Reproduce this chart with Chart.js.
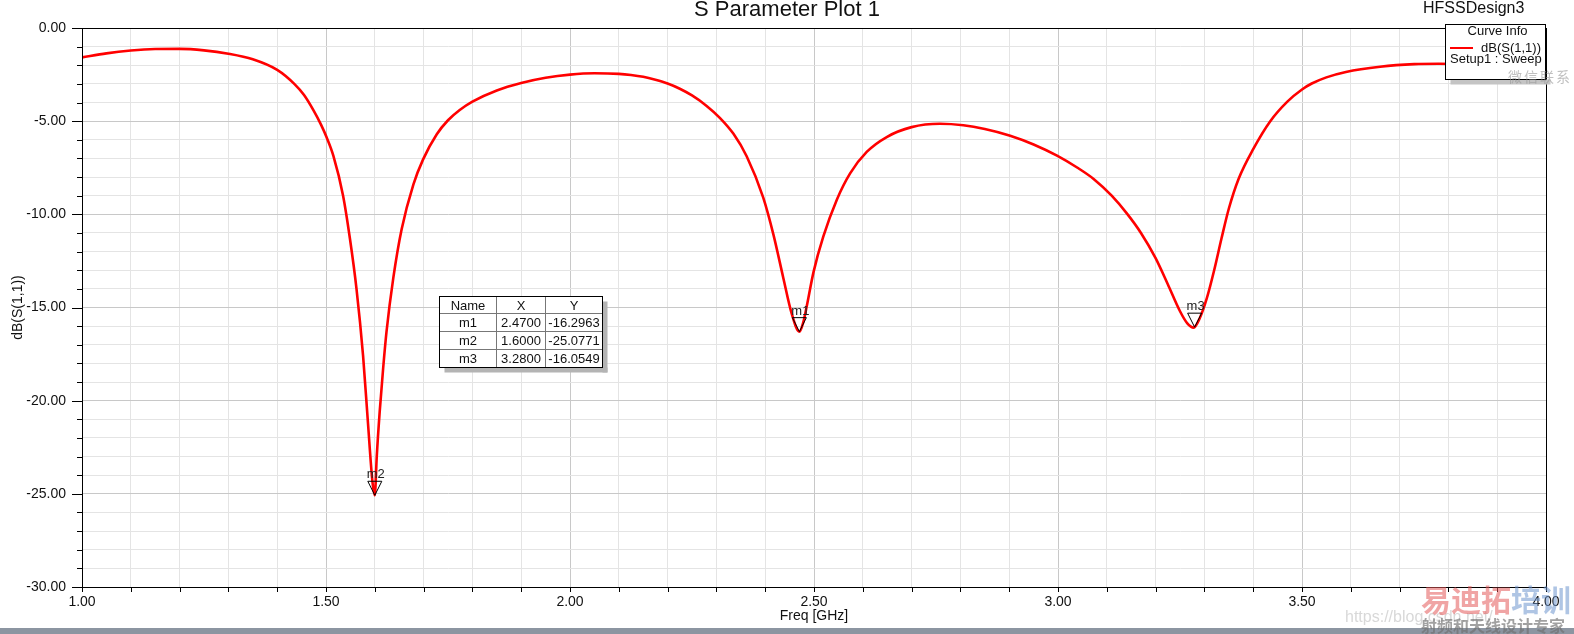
<!DOCTYPE html>
<html>
<head>
<meta charset="utf-8">
<script src="https://cdn.jsdelivr.net/npm/chart.js@4.4.0/dist/chart.umd.min.js"></script>
<style>
  html, body { margin: 0; padding: 0; background: #fff; }
  #wrap { width: 1574px; height: 634px; }
</style>
</head>
<body>
<div id="wrap"><canvas id="chart" width="1574" height="634"></canvas></div>
<script>
// values
const freq = [
    1.00, 1.05, 1.10, 1.15, 1.20, 1.25, 1.30, 1.35, 1.40, 1.435,
    1.455, 1.475, 1.49, 1.501, 1.515, 1.535, 1.549, 1.5625, 1.576, 1.586,
    1.595, 1.60, 1.604, 1.61, 1.617, 1.624, 1.638, 1.655, 1.679, 1.699,
    1.727, 1.75, 1.774, 1.80, 1.85, 1.90, 1.95, 2.00, 2.05, 2.10,
    2.125, 2.15, 2.175, 2.20, 2.225, 2.25, 2.28, 2.307, 2.335, 2.362,
    2.396, 2.417, 2.437, 2.454, 2.47, 2.478, 2.485, 2.499, 2.519, 2.547,
    2.574, 2.608, 2.649, 2.70, 2.758, 2.806, 2.85, 2.902, 2.95, 2.998,
    3.04, 3.073, 3.11, 3.141, 3.17, 3.20, 3.225, 3.25, 3.265, 3.278,
    3.29, 3.305, 3.32, 3.335, 3.35, 3.37, 3.40, 3.435, 3.47, 3.50,
    3.52, 3.55, 3.59, 3.66, 3.73, 3.78, 3.85, 3.90, 3.95, 4.00
]
const s11 = [
    -1.58, -1.36, -1.21, -1.13, -1.12, -1.20, -1.38, -1.68, -2.25, -3.00,
    -3.60, -4.45, -5.20, -5.85, -6.85, -9.00, -11.30, -14.00, -17.60, -21.20,
    -24.30, -25.08, -23.00, -20.60, -18.30, -16.30, -13.40, -10.80, -8.40, -7.05,
    -5.70, -4.95, -4.40, -3.95, -3.35, -2.95, -2.67, -2.50, -2.43, -2.46,
    -2.52, -2.62, -2.78, -2.98, -3.26, -3.62, -4.18, -4.82, -5.68, -6.88,
    -9.10, -11.10, -13.40, -15.30, -16.30, -15.80, -14.95, -13.10, -11.20, -9.20,
    -7.80, -6.65, -5.85, -5.32, -5.14, -5.22, -5.42, -5.78, -6.25, -6.85,
    -7.50, -8.10, -9.00, -9.95, -11.00, -12.35, -13.75, -15.20, -15.85, -16.08,
    -15.60, -14.50, -13.00, -11.30, -9.70, -8.10, -6.50, -5.00, -3.95, -3.30,
    -2.98, -2.65, -2.36, -2.08, -1.94, -1.92, -1.97, -2.08, -2.35, -2.80
]

const markerNames = ['m1', 'm2', 'm3']
const markerX = [2.47, 1.60, 3.28]
const markerY = [-16.2963, -25.0771, -16.0549]

const chartTitle = 'S Parameter Plot 1'
const designName = 'HFSSDesign3'
const curveLabel = 'dB(S(1,1))'
const sweepLabel = 'Setup1 : Sweep'

const FONT = "'Liberation Sans', Arial, sans-serif"

const isMajorX = v => Math.abs(v * 2 - Math.round(v * 2)) < 1e-6
const isMajorY = v => Math.abs(v / 5 - Math.round(v / 5)) < 1e-6

const line = (c, x1, y1, x2, y2) => {
    c.beginPath()
    c.moveTo(x1, y1)
    c.lineTo(x2, y2)
    c.stroke()
}

// draws everything HFSS puts around the plot: frame, ticks, markers, table, curve info
const decor = {
    id: 'decor',
    beforeDraw(chart) {
        const c = chart.ctx
        c.save()
        c.fillStyle = '#fff'
        c.fillRect(0, 0, chart.width, chart.height)
        c.restore()
    },
    afterDraw(chart) {
        const c = chart.ctx
        const a = chart.chartArea
        const xs = chart.scales.x
        const ys = chart.scales.y
        c.save()

        // frame
        c.strokeStyle = '#000'
        c.lineWidth = 1
        c.strokeRect(Math.round(a.left) + 0.5, Math.round(a.top) + 0.5,
            Math.round(a.right - a.left), Math.round(a.bottom - a.top))

        // tick marks
        ys.ticks.forEach(t => {
            const y = Math.round(ys.getPixelForValue(t.value)) + 0.5
            const len = isMajorY(t.value) ? 10 : 5
            line(c, a.left - len, y, a.left, y)
        })
        xs.ticks.forEach(t => {
            const x = Math.round(xs.getPixelForValue(t.value)) + 0.5
            line(c, x, a.bottom, x, a.bottom + 5)
        })

        // markers
        c.font = '13px ' + FONT
        c.textAlign = 'center'
        c.textBaseline = 'alphabetic'
        c.fillStyle = '#222'
        markerNames.forEach((name, i) => {
            const px = xs.getPixelForValue(markerX[i])
            const py = ys.getPixelForValue(markerY[i])
            c.beginPath()
            c.moveTo(px, py)
            c.lineTo(px - 7, py - 14)
            c.lineTo(px + 7, py - 14)
            c.closePath()
            c.strokeStyle = '#000'
            c.stroke()
            c.fillText(name, px + 1, py - 17)
        })

        // marker table
        const tx = [439.5, 496.5, 545.5, 602.5]
        const ty = [296.5, 313.5, 331.5, 349.5, 367.5]
        c.fillStyle = '#b4b4b4'
        c.fillRect(tx[0] + 5, ty[4], tx[3] - tx[0], 5)
        c.fillRect(tx[3], ty[0] + 5, 5, ty[4] - ty[0])
        c.fillStyle = '#fff'
        c.fillRect(tx[0], ty[0], tx[3] - tx[0], ty[4] - ty[0])
        c.strokeStyle = '#777'
        for (let k = 1; k < 4; k++) line(c, tx[0], ty[k], tx[3], ty[k])
        for (let k = 1; k < 3; k++) line(c, tx[k], ty[0], tx[k], ty[4])
        c.strokeStyle = '#000'
        c.strokeRect(tx[0], ty[0], tx[3] - tx[0], ty[4] - ty[0])
        c.fillStyle = '#111'
        c.font = '13px ' + FONT
        c.textBaseline = 'middle'
        const rows = [['Name', 'X', 'Y']]
        markerNames.forEach((n, i) => rows.push([n, markerX[i].toFixed(4), markerY[i].toFixed(4)]))
        rows.forEach((r, k) => {
            const cy = (ty[k] + ty[k + 1]) / 2 + 1
            r.forEach((txt, j) => c.fillText(txt, (tx[j] + tx[j + 1]) / 2, cy))
        })

        // curve info box
        const lx = 1445.5, ly = 24.5, lw = 100, lh = 55
        c.fillStyle = '#c4c4c4'
        c.fillRect(lx + 5, ly + lh, lw, 5)
        c.fillStyle = '#fff'
        c.fillRect(lx, ly, lw, lh)
        c.strokeStyle = '#000'
        c.strokeRect(lx, ly, lw, lh)
        c.fillStyle = '#111'
        c.textBaseline = 'alphabetic'
        c.textAlign = 'center'
        c.fillText('Curve Info', lx + lw / 2 + 2, 35)
        c.textAlign = 'left'
        c.fillText(curveLabel, 1481, 52)
        c.fillText(sweepLabel, 1450, 63)
        c.strokeStyle = '#ff0000'
        c.lineWidth = 2
        line(c, 1450, 48, 1473, 48)

        // titles
        c.fillStyle = '#111'
        c.textAlign = 'center'
        c.font = '22px ' + FONT
        c.fillText(chartTitle, 787, 16)
        c.textAlign = 'left'
        c.font = '16px ' + FONT
        c.fillText(designName, 1423, 13)

        // bottom strip
        c.fillStyle = '#8c95a1'
        c.fillRect(0, 628, chart.width, 6)

        // watermarks
        c.font = '16px ' + FONT
        c.fillStyle = 'rgba(190,190,190,0.6)'
        c.fillText('https://blog.csdn.net/', 1345, 622)
        c.font = 'bold 30px "Noto Sans CJK SC"'
        c.fillStyle = 'rgba(228,90,90,0.55)'
        c.fillText('易迪拓', 1421, 611)
        c.fillStyle = 'rgba(110,150,205,0.55)'
        c.fillText('培训', 1511, 611)
        c.font = 'bold 16px "Noto Sans CJK SC"'
        c.fillStyle = 'rgba(110,110,110,0.65)'
        c.fillText('射频和天线设计专家', 1421, 632)
        c.font = '14px "Noto Sans CJK SC"'
        c.fillStyle = 'rgba(150,150,150,0.6)';
        ['微', '信', '联', '系'].forEach((ch, i) => c.fillText(ch, 1508 + i * 16, 82))

        c.restore()
    }
}

const context = document.getElementById('chart').getContext('2d')
const chart = new Chart(context, {
    type: 'line',
    data: {
        datasets: [
            {
                label: curveLabel,
                data: freq.map((f, i) => ({ x: f, y: s11[i] })),
                borderColor: '#ff0000',
                backgroundColor: '#ff0000',
                borderWidth: 2.6,
                pointRadius: 0,
                cubicInterpolationMode: 'monotone'
            }
        ]
    },
    options: {
        responsive: false,
        animation: false,
        layout: {
            padding: { left: 0, right: 28, top: 28, bottom: 0 }
        },
        plugins: {
            legend: { display: false },
            title: { display: false },
            tooltip: { enabled: false }
        },
        scales: {
            x: {
                type: 'linear',
                min: 1,
                max: 4,
                afterFit: (scale) => { scale.height = 47 },
                border: { display: true, color: '#000', width: 1 },
                grid: {
                    drawTicks: false,
                    color: (ctx) => ctx.tick && isMajorX(ctx.tick.value) ? '#c8c8c8' : '#e4e4e4'
                },
                ticks: {
                    stepSize: 0.1,
                    autoSkip: false,
                    maxRotation: 0,
                    padding: 7,
                    color: '#111',
                    font: { family: FONT, size: 14 },
                    callback: (v) => isMajorX(v) ? v.toFixed(2) : ''
                },
                title: {
                    display: true,
                    text: 'Freq [GHz]',
                    color: '#111',
                    font: { family: FONT, size: 14 },
                    padding: { top: 0, bottom: 9 }
                }
            },
            y: {
                min: -30,
                max: 0,
                afterFit: (scale) => { scale.width = 82 },
                border: { display: true, color: '#000', width: 1 },
                grid: {
                    drawTicks: false,
                    color: (ctx) => ctx.tick && isMajorY(ctx.tick.value) ? '#c8c8c8' : '#e4e4e4'
                },
                ticks: {
                    stepSize: 1,
                    autoSkip: false,
                    padding: 16,
                    color: '#111',
                    font: { family: FONT, size: 14 },
                    callback: (v) => isMajorY(v) ? v.toFixed(2) : ''
                },
                title: {
                    display: true,
                    text: 'dB(S(1,1))',
                    color: '#111',
                    font: { family: FONT, size: 14 },
                    padding: { top: 10, bottom: 0 }
                }
            }
        }
    },
    plugins: [decor]
})
</script>
</body>
</html>
